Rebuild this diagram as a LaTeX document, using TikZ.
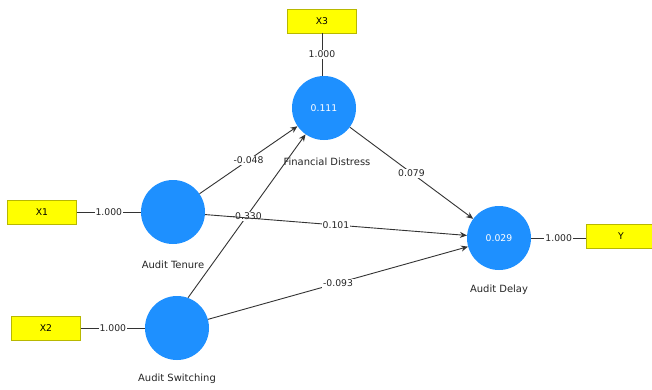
\documentclass[tikz,border=0pt]{standalone}
\usepackage{fontspec}
\setmainfont{DejaVu Sans}
\usetikzlibrary{arrows.meta}
\definecolor{lvblue}{HTML}{1E90FF}
\definecolor{mvyellow}{HTML}{FFFF00}
\definecolor{mvborder}{HTML}{B8B800}
\definecolor{linec}{HTML}{333333}
\tikzset{
  txt/.style={font=\fontsize{9.3}{11}\selectfont},
  latent/.style={txt,circle,fill=lvblue,draw=none,minimum size=64bp,inner sep=0pt,text=white},
  manifest/.style={txt,rectangle,fill=mvyellow,draw=mvborder,line width=0.6bp,minimum width=69bp,minimum height=24bp,inner sep=0pt},
  vname/.style={font=\fontsize{10}{12}\selectfont,text=black!85},
  coef/.style={txt,fill=white,inner sep=1bp,text=black!85},
  link/.style={draw=linec,line width=0.9bp},
  path/.style={draw=linec,line width=0.9bp,-{Stealth[length=7bp,width=6bp]}},
}
\begin{document}
\begin{tikzpicture}[x=1bp,y=-1bp]
\useasboundingbox[fill=white] (0,0) rectangle (652,389);
% latent variables
\node[latent] (FD) at (324,108) {0.111};
\node[latent] (AT) at (173,212) {};
\node[latent] (AS) at (177,328) {};
\node[latent] (AD) at (499,238) {0.029};
% names
\node[vname] (FDn) at (327,162) {Financial Distress};
\node[vname] (ATn) at (173,265) {Audit Tenure};
\node[vname] (ASn) at (177,379) {Audit Switching};
\node[vname] (ADn) at (499,290) {Audit Delay};
% manifest variables
\node[manifest] (X1) at (42,212) {X1};
\node[manifest] (X2) at (46,328) {X2};
\node[manifest] (X3) at (322,21) {X3};
\node[manifest] (Y) at (621,236) {Y};
% outer loadings
\draw[link] (X1.east) -- node[coef] {1.000} (AT.west);
\draw[link] (X2.east) -- node[coef] {1.000} (AS.west);
\draw[link] (X3.south) -- node[coef] {1.000} (X3.south |- FD.north);
\draw[link] (AD.east) -- node[coef] {1.000} (AD.east -| Y.west);
% structural paths
\draw[path] (AT) -- node[coef] {-0.048} (FD);
\draw[path] (AS.70) -- node[coef] {-0.330} (FD.235);
\draw[path] (AT) -- node[coef] {0.101} (AD);
\draw[path] (AS) -- node[coef] {-0.093} (AD);
\draw[path] (FD) -- node[coef] {0.079} (AD);
\end{tikzpicture}
\end{document}
